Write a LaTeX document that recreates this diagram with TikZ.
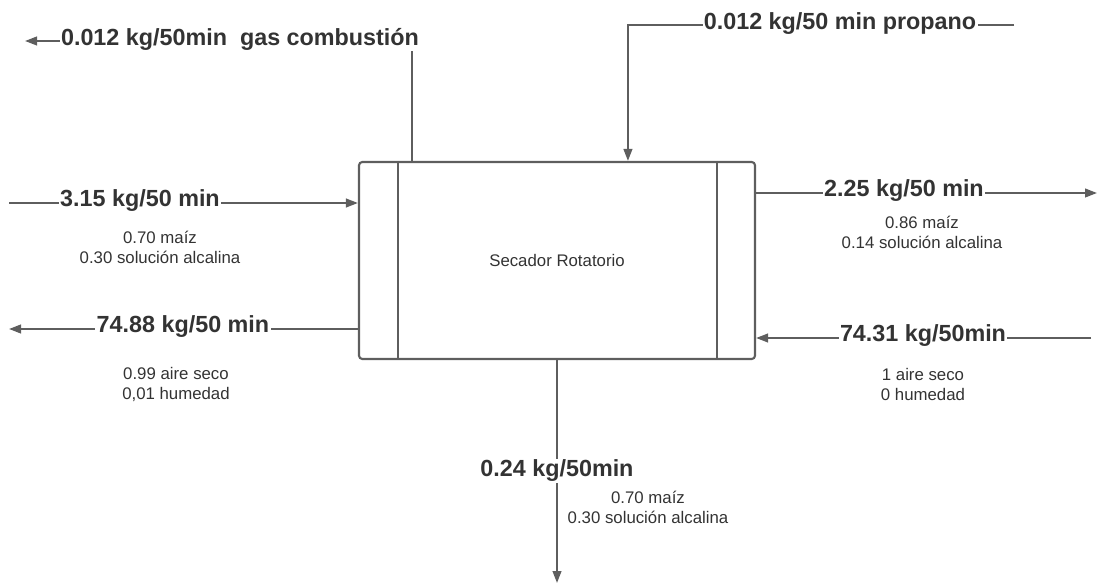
\documentclass[tikz,border=0pt]{standalone}
\usepackage{fontspec}
\setmainfont{Liberation Sans}
\usetikzlibrary{arrows.meta,positioning,calc}
\definecolor{linegray}{HTML}{5E5E5E}
\definecolor{textgray}{HTML}{333333}

\begin{document}
\begin{tikzpicture}[
    x=0.75pt, y=-0.75pt,
    flow/.style={-{Triangle[length=9pt,width=6.5pt]}, line width=1.5pt, draw=linegray},
    plain/.style={line width=1.5pt, draw=linegray},
    unit/.style={rectangle, draw=linegray, line width=1.6pt, rounded corners=2.5pt, minimum width=396*0.75pt, minimum height=197*0.75pt, text=textgray, font=\fontsize{12.6}{15}\selectfont},
    rate/.style={fill=white, inner sep=1pt, text=textgray, font=\bfseries\fontsize{17.5}{21}\selectfont},
    comp/.style={align=center, inner sep=0pt, text=textgray, font=\fontsize{12.6}{15}\selectfont}
]
    \useasboundingbox (0,0) rectangle (1098,584);

    % secador
    \node[unit] (dryer) at (557,260.5) {Secador Rotatorio};
    \draw[plain] ($(dryer.north west)+(40,0)$) -- ($(dryer.south west)+(40,0)$);
    \draw[plain] ($(dryer.north east)+(-39,0)$) -- ($(dryer.south east)+(-39,0)$);

    % extremos libres
    \coordinate (gasend) at (25,41);
    \coordinate (propstart) at (1014,25);
    \coordinate (feedstart) at (9,203);
    \coordinate (airout) at (9,329);
    \coordinate (prodend) at (1097,193);
    \coordinate (airin) at (1091,338);
    \coordinate (fines) at (557,583);

    % corrientes
    \draw[flow] ($(dryer.north west)+(54,0)$) |- (gasend);
    \draw[flow] (propstart) -| ($(dryer.north west)+(270,0)$);
    \draw[flow] (feedstart) -- (feedstart -| dryer.west);
    \draw[flow] (airout -| dryer.west) -- (airout);
    \draw[flow] (prodend -| dryer.east) -- (prodend);
    \draw[flow] (airin) -- (airin -| dryer.east);
    \draw[flow] (dryer.south) -- (fines);

    % flujos
    \node[rate] (gasrate) at (240,39) {0.012 kg/50min\ \ gas combustión};
    \node[rate] (proprate) at (840,24) {0.012 kg/50 min propano};
    \node[rate] (feedrate) at (140,201) {3.15 kg/50 min};
    \node[rate] (airoutrate) at (183,327) {74.88 kg/50 min};
    \node[rate] (prodrate) at (904,191) {2.25 kg/50 min};
    \node[rate] (airinrate) at (923,336) {74.31 kg/50min};
    \node[rate] (finesrate) at (557,471) {0.24 kg/50min};

    % composiciones
    \node[comp] (feedcomp) at (160,247) {0.70 maíz\\0.30 solución alcalina};
    \node[comp] (airoutcomp) at (176,384) {0.99 aire seco\\0,01 humedad};
    \node[comp] (prodcomp) at (922,232) {0.86 maíz\\0.14 solución alcalina};
    \node[comp] (airincomp) at (923,384) {1 aire seco\\0 humedad};
    \node[comp] (finescomp) at (648,507) {0.70 maíz\\0.30 solución alcalina};
\end{tikzpicture}
\end{document}
